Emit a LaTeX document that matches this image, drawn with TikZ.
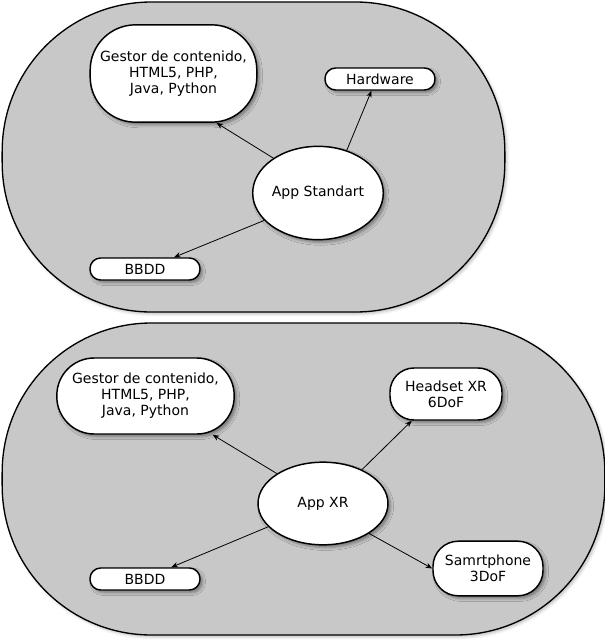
\documentclass[tikz,border=0pt]{standalone}
\usepackage{fontspec}
\setmainfont{DejaVu Sans}
\usepackage{tikz}
\usetikzlibrary{shapes.geometric, arrows.meta, shadows.blur}

\definecolor{zonegray}{RGB}{200,200,200}

\begin{document}
\begin{tikzpicture}[x=0.75pt, y=-0.75pt, font=\fontsize{10.5}{12}\selectfont]
        \tikzset{
            zone/.style={draw, line width=1pt, fill=zonegray, rounded corners=112pt,
                blur shadow={shadow xshift=1.5pt, shadow yshift=-1.5pt, shadow opacity=25}},
            box/.style={draw, line width=1.1pt, fill=white, align=center, inner sep=0pt,
                blur shadow={shadow xshift=2pt, shadow yshift=-2pt, shadow opacity=40}},
            pill/.style={box, minimum width=82.5pt, minimum height=16.5pt, rounded corners=8pt},
            app/.style={box, ellipse, minimum width=97.5pt},
            link/.style={line width=0.6pt, -{Stealth[length=5pt, width=4pt]}}
        }
        \useasboundingbox (0,0) rectangle (605,640);

        % Containers
        \node[zone, minimum width=377pt, minimum height=232.5pt] (zoneStd) at (253.5,157) {};
        \node[zone, minimum width=452pt, minimum height=234pt] (zoneXR) at (303.5,479) {};

        % App Standart
        \node[box, minimum width=125pt, minimum height=73pt, rounded corners=34pt] (gestorStd) at (173.5,73.5) {Gestor de contenido,\\HTML5, PHP,\\Java, Python};
        \node[pill] (hardware) at (380,79) {Hardware};
        \node[app, minimum height=70pt] (appStd) at (318,193) {App Standart};
        \node[pill] (bbddStd) at (145,269) {BBDD};

        % App XR
        \node[box, minimum width=133pt, minimum height=57pt, rounded corners=28pt] (gestorXR) at (145.5,396) {Gestor de contenido,\\HTML5, PHP,\\Java, Python};
        \node[box, minimum width=84pt, minimum height=39pt, rounded corners=18pt] (headset) at (446,394) {Headset XR\\6DoF};
        \node[app, minimum height=62pt] (appXR) at (323,503.5) {App XR};
        \node[pill] (bbddXR) at (145,579) {BBDD};
        \node[box, minimum width=82.5pt, minimum height=41pt, rounded corners=19pt] (phone) at (488,568.5) {Samrtphone\\3DoF};

        % Connections
        \draw[link] (appStd.142) -- (gestorStd.-49);
        \draw[link] (appStd.56) -- (hardware.-126);
        \draw[link] (appStd.207) -- (bbddStd.22);
        \draw[link] (appXR.147) -- (gestorXR.-30);
        \draw[link] (appXR.41) -- (headset.-142);
        \draw[link] (appXR.203) -- (bbddXR.24);
        \draw[link] (appXR.-33) -- (phone.west);
    \end{tikzpicture}
\end{document}
